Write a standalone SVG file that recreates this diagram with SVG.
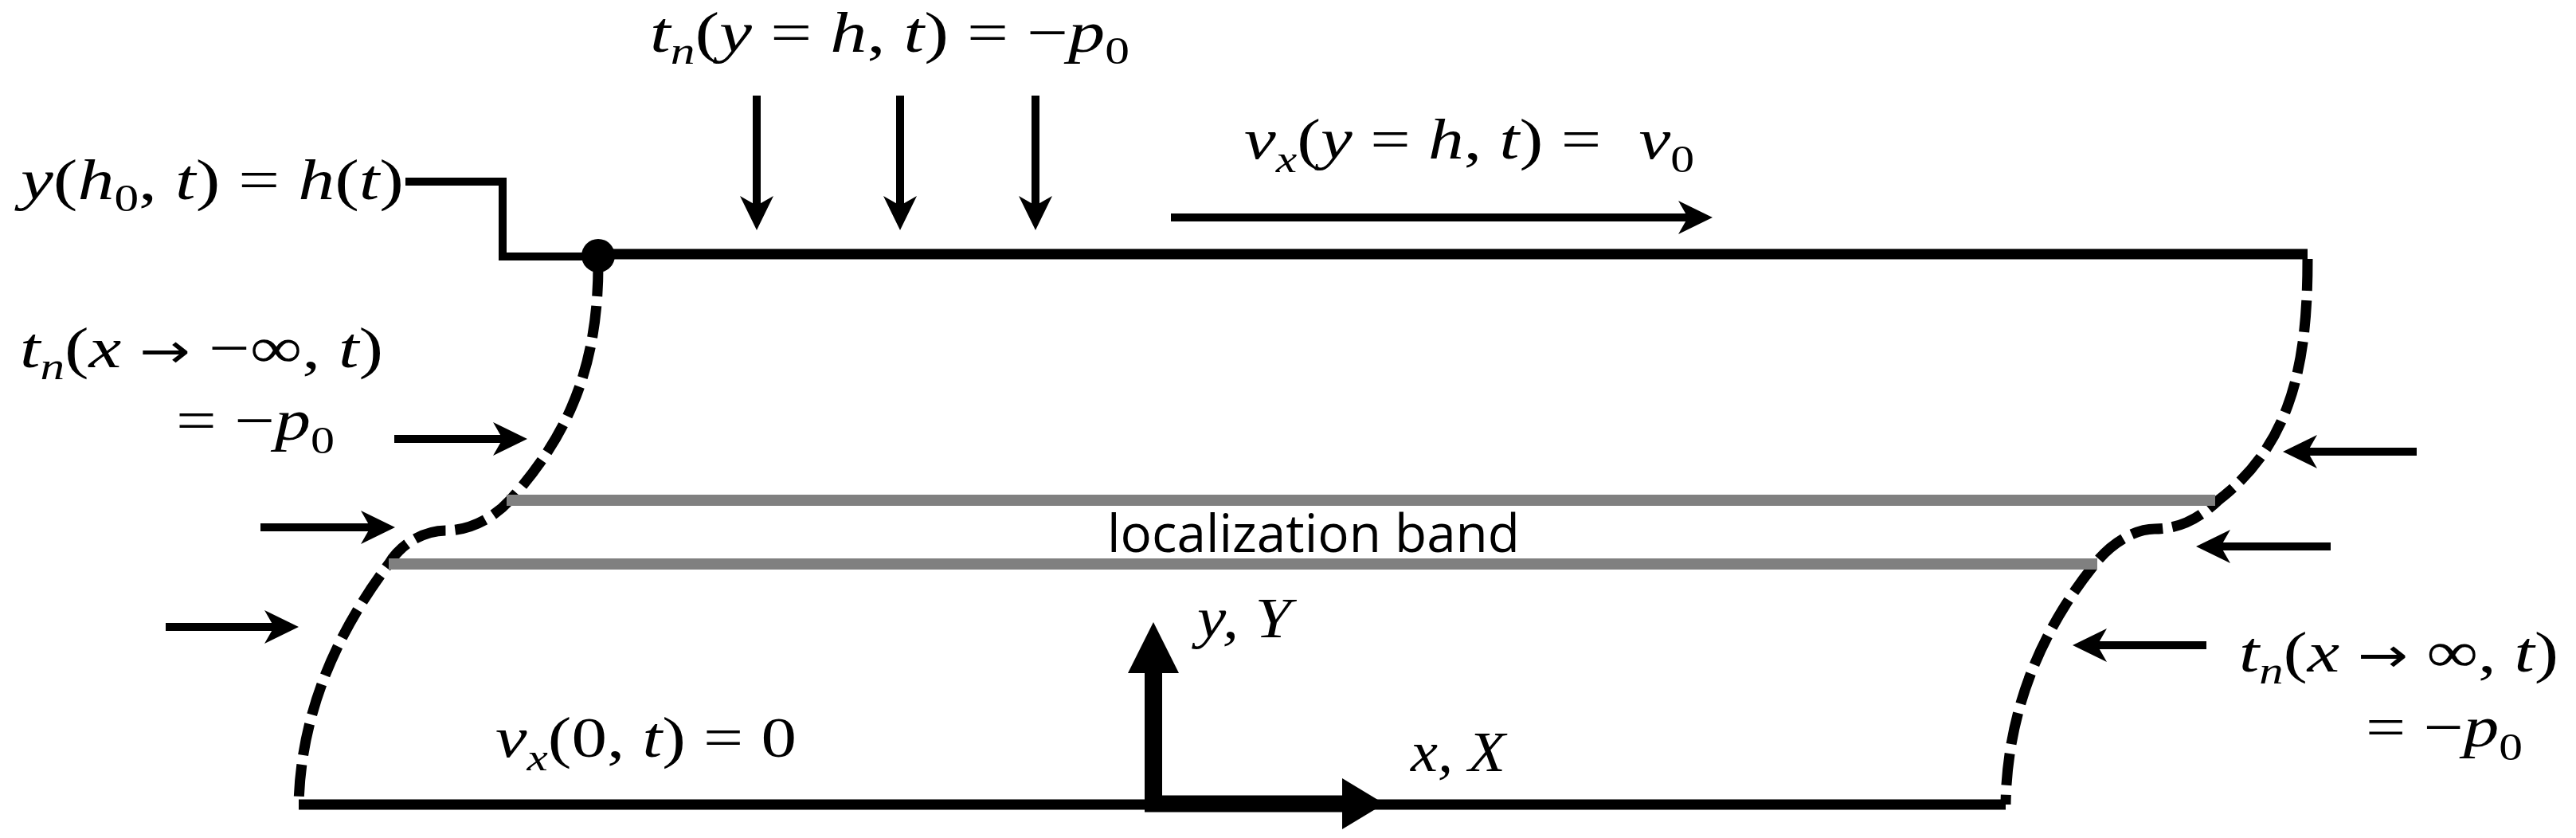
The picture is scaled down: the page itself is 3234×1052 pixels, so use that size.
<svg xmlns="http://www.w3.org/2000/svg" width="3234" height="1052" viewBox="0 0 3234 1052">
<style>
.m{font-family:"Liberation Serif","Times New Roman",serif;font-size:72px;fill:#000}
.i{font-style:italic}
.s{font-size:48px}
.ar{font-family:"DejaVu Sans",sans-serif;font-size:60px}
.sans{font-family:"Open Sans","Noto Sans","Liberation Sans",sans-serif;font-size:66px;fill:#000}
.edge{fill:none;stroke:#000;stroke-width:13}
.dash{fill:none;stroke:#000;stroke-width:13;stroke-dasharray:40 12}
.band{fill:none;stroke:#808080;stroke-width:14}
.arr{fill:none;stroke:#000;stroke-width:10;marker-end:url(#ah)}
.lead{fill:none;stroke:#000;stroke-width:10}
</style>
<defs>
<marker id="ah" markerUnits="userSpaceOnUse" viewBox="-45 -25 50 50" markerWidth="50" markerHeight="50" refX="-30" refY="0" orient="auto"><path d="M0,0 L-43,-21 L-31,0 L-43,21 Z" fill="#000"/></marker>
</defs>
<rect x="0" y="0" width="3234" height="1052" fill="#fff"/>
<g id="body">
<path class="edge" d="M751 319 H2897"/>
<path class="edge" d="M375 1010 H2518"/>
<path class="dash" d="M751 332 C751 450 720 540 640 628 C620 650 590 666 560 666 C535 666 505 680 488 708 C445 765 378 870 375 1010"/>
<path class="dash" d="M2897 325 C2897 450 2880 555 2785 628 C2760 652 2735 664 2705 664 C2680 664 2650 682 2630 708 C2580 770 2520 870 2518 1010"/>
</g>
<g id="localization-band">
<path class="band" d="M636 628 H2781"/>
<path class="band" d="M488 708 H2633"/>
<text class="sans" x="1390" y="693" textLength="518" lengthAdjust="spacingAndGlyphs">localization band</text>
</g>
<g id="top-point">
<polyline class="lead" points="509,228 631,228 631,322 751,322"/>
<circle cx="751" cy="321" r="21" fill="#000"/>
<text class="m" x="26" y="250" textLength="481" lengthAdjust="spacingAndGlyphs"><tspan class="i">y</tspan>(<tspan class="i">h</tspan><tspan class="s" dy="15">0</tspan><tspan dy="-15">, </tspan><tspan class="i">t</tspan>) = <tspan class="i">h</tspan>(<tspan class="i">t</tspan>)</text>
</g>
<g id="top-traction">
<text class="m" x="816" y="65" textLength="602" lengthAdjust="spacingAndGlyphs"><tspan class="i">t</tspan><tspan class="s i" dy="15">n</tspan><tspan dy="-15">(</tspan><tspan class="i">y</tspan> = <tspan class="i">h</tspan>, <tspan class="i">t</tspan>) = −<tspan class="i">p</tspan><tspan class="s" dy="15">0</tspan></text>
</g>
<g id="top-velocity">
<text class="m" x="1562" y="199" textLength="565" lengthAdjust="spacingAndGlyphs"><tspan class="i">v</tspan><tspan class="s i" dy="17">x</tspan><tspan dy="-17">(</tspan><tspan class="i">y</tspan> = <tspan class="i">h</tspan>, <tspan class="i">t</tspan>) = <tspan class="i" dx="20">v</tspan><tspan class="s" dy="17">0</tspan></text>
</g>
<g id="left-traction">
<text class="m" x="25" y="461" textLength="456" lengthAdjust="spacingAndGlyphs"><tspan class="i">t</tspan><tspan class="s i" dy="15">n</tspan><tspan dy="-15">(</tspan><tspan class="i">x</tspan> <tspan class="ar">→</tspan> −∞, <tspan class="i">t</tspan>)</text>
<text class="m" x="221" y="552" textLength="199" lengthAdjust="spacingAndGlyphs">= −<tspan class="i">p</tspan><tspan class="s" dy="17">0</tspan></text>
</g>
<g id="right-traction">
<text class="m" x="2811" y="843" textLength="401" lengthAdjust="spacingAndGlyphs"><tspan class="i">t</tspan><tspan class="s i" dy="15">n</tspan><tspan dy="-15">(</tspan><tspan class="i">x</tspan> <tspan class="ar">→</tspan> ∞, <tspan class="i">t</tspan>)</text>
<text class="m" x="2970" y="937" textLength="197" lengthAdjust="spacingAndGlyphs">= −<tspan class="i">p</tspan><tspan class="s" dy="17">0</tspan></text>
</g>
<g id="bottom-velocity">
<text class="m" x="622" y="950" textLength="378" lengthAdjust="spacingAndGlyphs"><tspan class="i">v</tspan><tspan class="s i" dy="17">x</tspan><tspan dy="-17">(0, </tspan><tspan class="i">t</tspan>) = 0</text>
</g>
<g id="axes">
<path d="M1448 1019 V845" stroke="#000" stroke-width="22" fill="none"/>
<polygon points="1416,845 1448,781 1480,845" fill="#000"/>
<path d="M1437 1009 H1685" stroke="#000" stroke-width="21" fill="none"/>
<polygon points="1685,977 1738,1009 1685,1041" fill="#000"/>
<text class="m i" x="1503" y="800" textLength="118" lengthAdjust="spacingAndGlyphs">y, Y</text>
<text class="m i" x="1771" y="968" textLength="119" lengthAdjust="spacingAndGlyphs">x, X</text>
</g>
<g id="connectors">
<path class="arr" d="M950 120 V259"/>
<path class="arr" d="M1130 120 V259"/>
<path class="arr" d="M1300 120 V259"/>
<path class="arr" d="M1470 273 H2120"/>
<path class="arr" d="M495 551 H632"/>
<path class="arr" d="M327 662 H466"/>
<path class="arr" d="M208 787 H345"/>
<path class="arr" d="M3034 567 H2896"/>
<path class="arr" d="M2926 686 H2787"/>
<path class="arr" d="M2770 810 H2632"/>
</g>
</svg>
